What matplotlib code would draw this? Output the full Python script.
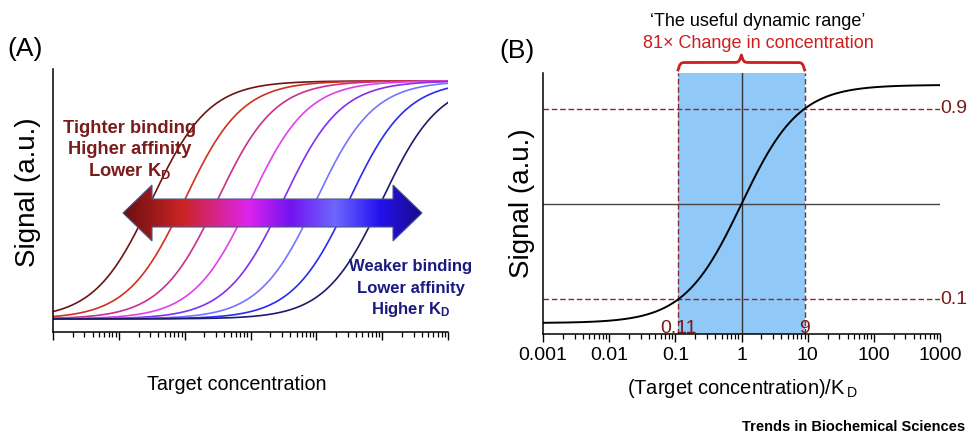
import numpy as np
import matplotlib
matplotlib.use('Agg')
import matplotlib.pyplot as plt
from matplotlib.colors import LinearSegmentedColormap
from matplotlib.patches import Polygon
from matplotlib.ticker import LogLocator, NullFormatter
from matplotlib.transforms import blended_transform_factory

plt.rcParams['font.family'] = ['Liberation Sans', 'DejaVu Sans']
plt.rcParams['mathtext.fontset'] = 'custom'
plt.rcParams['mathtext.rm'] = 'Liberation Sans'
plt.rcParams['mathtext.bf'] = 'Liberation Sans:bold'
plt.rcParams['mathtext.it'] = 'Liberation Sans:italic'

W, H = 968, 436

# ---------------- data ----------------
# Panel A: dissociation constants (relative units) of the eight binding curves
kd_values_A = [0.0316, 0.1, 0.316, 1.0, 3.16, 10.0, 31.6, 100.0]
curve_colors_A = ['#6e1414', '#d0301e', '#c8308c', '#e040e8',
                  '#8030ee', '#7474ff', '#2a2af0', '#1c1c6c']
xlim_conc = (1e-3, 1e3)

# Panel B
kd_B = 1.0
frac_lo, frac_hi = 0.1, 0.9
range_lo, range_hi = 0.11, 9
xticks_B = [0.001, 0.01, 0.1, 1, 10, 100, 1000]
xticklabels_B = ['0.001', '0.01', '0.1', '1', '10', '100', '1000']

# arrow gradient stops
arrow_stops = [(0.0, '#6a1010'), (0.2, '#cc2424'), (0.42, '#dc24ee'),
               (0.56, '#7412f0'), (0.71, '#6e68ff'), (0.86, '#2412ee'),
               (1.0, '#1a0a88')]

conc = np.logspace(-3, 3, 800)

fig = plt.figure(figsize=(W / 100, H / 100), dpi=100)


def fx(x):
    return x / W


def fy(y):
    return 1 - y / H


DARKRED = '#7a1a1a'
SP_LW = 1.1

# ---------------- Panel A ----------------
axA = fig.add_axes([fx(53), fy(332), (448 - 53) / W, (332 - 69) / H])
for kd, c in zip(kd_values_A, curve_colors_A):
    axA.plot(conc, conc / (conc + kd), color=c, lw=1.2)
axA.set_xscale('log')
axA.set_xlim(*xlim_conc)
axA.set_ylim(-0.055, 1.05)
for s in ['top', 'right']:
    axA.spines[s].set_visible(False)
for s in ['left', 'bottom']:
    axA.spines[s].set_linewidth(SP_LW)
axA.set_yticks([])
axA.xaxis.set_major_locator(LogLocator(base=10, numticks=10))
axA.xaxis.set_minor_locator(LogLocator(base=10, subs=np.arange(2, 10), numticks=20))
axA.xaxis.set_minor_formatter(NullFormatter())
axA.tick_params(axis='x', which='major', length=6, width=1.0, labelbottom=False)
axA.tick_params(axis='x', which='minor', length=3.5, width=0.9)

fig.text(fx(25), fy(49), '(A)', fontsize=19, ha='center', va='center')
fig.text(fx(28), fy(192), 'Signal (a.u.)', fontsize=20, rotation=90,
         ha='center', va='center')
fig.text(fx(237), fy(384), 'Target concentration', fontsize=14.2,
         ha='center', va='center')

tight_lines = ['Tighter binding', 'Higher affinity', r'Lower K$_\mathbf{D}$']
for t, yb in zip(tight_lines, [133, 154, 176]):
    fig.text(fx(130), fy(yb), t, fontsize=13.2, fontweight='bold',
             color='#7b1c1c', ha='center', va='baseline')
weak_lines = ['Weaker binding', 'Lower affinity', r'Higher K$_\mathbf{D}$']
for t, yb in zip(weak_lines, [271, 293, 314]):
    fig.text(fx(411), fy(yb), t, fontsize=12, fontweight='bold',
             color='#1a1a80', ha='center', va='baseline')

# ---------------- Panel B ----------------
axB = fig.add_axes([fx(543), fy(334), (940 - 543) / W, (334 - 73) / H])
axB.set_xscale('log')
axB.set_xlim(*xlim_conc)
axB.set_ylim(-0.046, 1.05)
axB.axvspan(range_lo, range_hi, color='#90c8f8', lw=0, zorder=0)
axB.axhline(0.5, color='#444444', lw=1.0, zorder=1)
axB.axvline(kd_B, color='#333333', lw=1.0, zorder=1)
for yv in (frac_lo, frac_hi):
    axB.axhline(yv, color='#8b2a2a', lw=1.0, ls=(0, (4, 2)), zorder=2)
for xv in (range_lo, range_hi):
    axB.axvline(xv, color='#8b2a2a', lw=1.0, ls=(0, (4, 2)), zorder=2)
axB.plot(conc, conc / (conc + kd_B), color='black', lw=1.4, zorder=3)
for s in ['top', 'right']:
    axB.spines[s].set_visible(False)
for s in ['left', 'bottom']:
    axB.spines[s].set_linewidth(SP_LW)
axB.set_yticks([])
axB.set_xticks(xticks_B)
axB.set_xticklabels(xticklabels_B, fontsize=14)
axB.xaxis.set_minor_locator(LogLocator(base=10, subs=np.arange(2, 10), numticks=20))
axB.xaxis.set_minor_formatter(NullFormatter())
axB.tick_params(axis='x', which='major', length=6, width=1.0, pad=3)
axB.tick_params(axis='x', which='minor', length=3.5, width=0.9)

trB = blended_transform_factory(axB.transAxes, axB.transData)
for yv, lab in ((frac_hi, '0.9'), (frac_lo, '0.1')):
    axB.text(1.0, yv, lab, transform=trB, ha='left', va='center',
             fontsize=14, color=DARKRED, clip_on=False)
axB.text(range_lo, -0.040, '0.11', ha='center', va='baseline', fontsize=14,
         color=DARKRED, zorder=4)
axB.text(range_hi, -0.040, '9', ha='center', va='baseline', fontsize=14,
         color=DARKRED, zorder=4)

fig.text(fx(517), fy(51), '(B)', fontsize=19, ha='center', va='center')
fig.text(fx(522), fy(203), 'Signal (a.u.)', fontsize=20, rotation=90,
         ha='center', va='center')
fig.text(fx(742), fy(388), r'(Target concentration)/K$_{\,\mathrm{D}}$',
         fontsize=14.5, ha='center', va='center')
fig.text(fx(758), fy(22), '\u2018The useful dynamic range\u2019', fontsize=13,
         ha='center', va='center')
fig.text(fx(758), fy(43), '81\u00d7 Change in concentration', fontsize=13,
         color='#cc1f1f', ha='center', va='center')
fig.text(fx(965), fy(427), 'Trends in Biochemical Sciences', fontsize=10.5,
         fontweight='bold', ha='right', va='center')

# ---------------- overlay (arrow + brace) ----------------
ov = fig.add_axes([0, 0, 1, 1], zorder=5)
ov.set_xlim(0, W)
ov.set_ylim(H, 0)
ov.axis('off')
ov.patch.set_alpha(0)

xl, xr, yc = 123, 422, 213
hl, sh, hh = 29, 14, 28
arrow_pts = [(xl, yc), (xl + hl, yc - hh), (xl + hl, yc - sh), (xr - hl, yc - sh),
             (xr - hl, yc - hh), (xr, yc), (xr - hl, yc + hh), (xr - hl, yc + sh),
             (xl + hl, yc + sh), (xl + hl, yc + hh)]
cmap = LinearSegmentedColormap.from_list('arr', arrow_stops)
grad = np.linspace(0, 1, 512)[None, :]
im = ov.imshow(grad, cmap=cmap, extent=(xl, xr, yc + hh, yc - hh),
               aspect='auto', interpolation='bilinear', zorder=1)
poly = Polygon(arrow_pts, closed=True, facecolor='none', edgecolor='#4a5a8a',
               lw=0.8, zorder=2)
ov.add_patch(poly)
im.set_clip_path(poly)
ov.set_xlim(0, W)
ov.set_ylim(H, 0)

# curly brace over the useful range
def to_px(ax, x, y):
    d = ax.transData.transform((x, y))
    return d[0], H - d[1]

bx0, _ = to_px(axB, range_lo, 0.5)
bx1, _ = to_px(axB, range_hi, 0.5)
res = 401
xs = np.linspace(bx0, bx1, res)
xh = xs[:res // 2 + 1]
beta = 0.9
yh = 1 / (1 + np.exp(-beta * (xh - xh[0]))) + 1 / (1 + np.exp(-beta * (xh - xh[-1])))
yb = np.concatenate((yh, yh[-2::-1]))
ov.plot(xs, 70 - (yb - 0.5) * 15, color='#cc1f1f', lw=2.0, zorder=3)

fig.savefig('out.png', dpi=100)
